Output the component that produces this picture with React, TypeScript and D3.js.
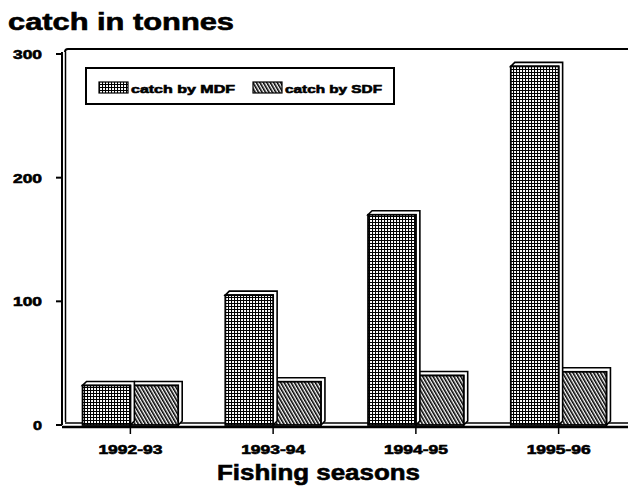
import React from "react";
import * as d3 from "d3";

const seasons = ["1992-93", "1993-94", "1994-95", "1995-96"];
const mdf = [32, 105, 170, 290];
const sdf = [32, 35, 40, 43];
const series = ["catch by MDF", "catch by SDF"];
const yTicks = [0, 100, 200, 300];

const W = 628;
const H = 490;
const y0 = 425;
const y300 = 54;
const depth = 4;

export default function App() {
  const y = d3.scaleLinear().domain([0, 300]).range([y0, y300]);
  const x = d3.scaleBand().domain(seasons).range([59, 630]).paddingInner(0.33).paddingOuter(0.165);
  const xs = d3.scaleBand().domain(series).range([0, x.bandwidth()]);
  const font = "Arial, 'Liberation Sans', Helvetica, sans-serif";
  const vals = [mdf, sdf];
  const fills = ["url(#grid)", "url(#hatch)"];
  const heavy = { stroke: "#000", strokeWidth: 0.6 };

  const bars: React.ReactNode[] = [];
  seasons.forEach((s, i) => {
    [1, 0].forEach((k) => {
      const bx = (x(s) as number) + (xs(series[k]) as number);
      const bw = xs.bandwidth();
      const top = y(vals[k][i]);
      const h = y0 - top;
      bars.push(
        <g key={s + k}>
          <path
            d={`M${bx},${top} L${bx + depth},${top - depth} L${bx + bw + depth},${top - depth} L${bx + bw + depth},${y0 - depth} L${bx + bw},${y0} L${bx + bw},${top} Z`}
            fill="#fff"
            stroke="#000"
            strokeWidth={1.6}
          />
          <rect x={bx} y={top} width={bw} height={h} fill={fills[k]} stroke="#000" strokeWidth={1.8} />
        </g>
      );
    });
  });

  return (
    <svg width={W} height={H} style={{ position: "absolute", left: 0, top: 0, background: "#fff" }}>
      <defs>
        <pattern id="grid" width="3" height="3" patternUnits="userSpaceOnUse">
          <rect width="3" height="3" fill="#fff" />
          <path d="M0,0.5 H3 M0.5,0 V3" stroke="#000" strokeWidth="1.1" />
        </pattern>
        <pattern id="hatch" width="3" height="3" patternUnits="userSpaceOnUse" patternTransform="rotate(-30)">
          <rect width="3" height="3" fill="#fff" />
          <path d="M0.5,0 V3" stroke="#000" strokeWidth="2.2" />
        </pattern>
      </defs>
      <text x={8} y={30} fontFamily={font} fontWeight="bold" fontSize={23} textLength={226} lengthAdjust="spacingAndGlyphs" {...heavy}>
        catch in tonnes
      </text>
      {/* plot frame */}
      <path d={`M65,52 Q65,49 68,49 H628`} fill="none" stroke="#000" strokeWidth={2} />
      <line x1={62} y1={52} x2={62} y2={y0} stroke="#000" strokeWidth={2} />
      <line x1={65.5} y1={52} x2={65.5} y2={y0 - 3} stroke="#000" strokeWidth={1.5} />
      <line x1={62} y1={y0 + 2} x2={628} y2={y0 + 2} stroke="#000" strokeWidth={2.5} />
      <line x1={65} y1={y0 - 2} x2={628} y2={y0 - 2} stroke="#000" strokeWidth={1.5} />
      {yTicks.map((t) => (
        <g key={t}>
          <line x1={56} x2={62} y1={y(t)} y2={y(t)} stroke="#000" strokeWidth={2} />
          <text
            x={t === 0 ? 33 : 13}
            y={y(t) + 5}
            fontFamily={font}
            fontWeight="bold"
            fontSize={13}
            textLength={t === 0 ? 9 : 29}
            lengthAdjust="spacingAndGlyphs"
            {...heavy}
          >
            {t}
          </text>
        </g>
      ))}
      {bars}
      {seasons.map((s) => {
        const cx = (x(s) as number) + x.bandwidth() / 2;
        return (
          <g key={s}>
            <line x1={cx} x2={cx} y1={y0} y2={y0 + 9} stroke="#000" strokeWidth={1.5} />
            <text
              x={cx - 32}
              y={454}
              fontFamily={font}
              fontWeight="bold"
              fontSize={13}
              textLength={64}
              lengthAdjust="spacingAndGlyphs"
              {...heavy}
            >
              {s}
            </text>
          </g>
        );
      })}
      <text x={217} y={480} fontFamily={font} fontWeight="bold" fontSize={22} textLength={203} lengthAdjust="spacingAndGlyphs" {...heavy}>
        Fishing seasons
      </text>
      {/* legend */}
      <rect x={86} y={68} width={308} height={36} fill="#fff" stroke="#000" strokeWidth={2} />
      {series.map((s, k) => {
        const lx = k === 0 ? 99 : 253;
        return (
          <g key={s}>
            <rect x={lx} y={82} width={29} height={11} fill={fills[k]} stroke="#000" strokeWidth={1.2} />
            <text
              x={lx + 32}
              y={93}
              fontFamily={font}
              fontWeight="bold"
              fontSize={11}
              textLength={k === 0 ? 104 : 97}
              lengthAdjust="spacingAndGlyphs"
              {...heavy}
            >
              {s}
            </text>
          </g>
        );
      })}
    </svg>
  );
}
